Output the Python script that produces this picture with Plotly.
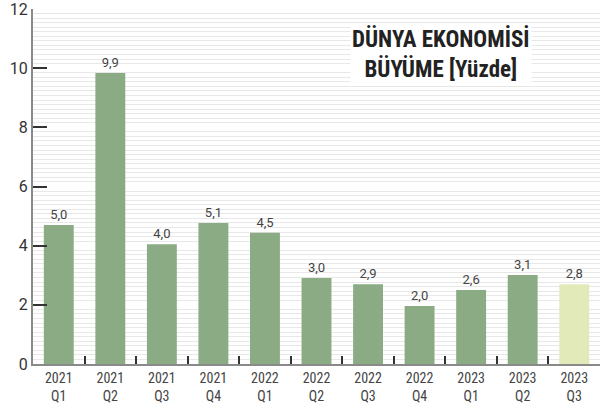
import plotly.graph_objects as go

years = ["2021", "2021", "2021", "2021", "2022", "2022", "2022", "2022", "2023", "2023", "2023"]
quarters = ["Q1", "Q2", "Q3", "Q4", "Q1", "Q2", "Q3", "Q4", "Q1", "Q2", "Q3"]
bar_values = [4.70, 9.84, 4.05, 4.77, 4.44, 2.91, 2.70, 1.96, 2.50, 3.01, 2.70]
value_labels = ["5,0", "9,9", "4,0", "5,1", "4,5", "3,0", "2,9", "2,0", "2,6", "3,1", "2,8"]
y_max = 12
y_step = 2
title_text = "DÜNYA EKONOMİSİ<br>BÜYÜME [Yüzde]"

categories = [f"{y}<br>{q}" for y, q in zip(years, quarters)]
colors = ["#8aab84"] * (len(categories) - 1) + ["#e1eab8"]

narrow = ("Roboto Condensed, Noto Sans Condensed, DejaVu Sans Condensed, "
          "Open Sans Condensed, Liberation Sans Narrow, Roboto, sans-serif")

fig = go.Figure(go.Bar(
    x=categories, y=bar_values,
    marker=dict(color=colors, line=dict(width=0)),
    width=0.58,
    text=value_labels, textposition="outside",
    textfont=dict(family="Roboto, Arial, sans-serif", size=13, color="#444"),
    cliponaxis=False,
))

fig.update_layout(
    width=600, height=414,
    margin=dict(l=33, r=0, t=9, b=50, autoexpand=False),
    paper_bgcolor="white", plot_bgcolor="white",
    showlegend=False,
    annotations=[dict(
        text=f"<b>{title_text}</b>", xref="paper", yref="paper",
        x=0.72, y=0.874, xanchor="center", yanchor="middle",
        showarrow=False, bgcolor="white",
        font=dict(family=narrow, size=23, color="#222"),
        align="center",
    )],
)

fig.update_yaxes(
    range=[0, y_max], tickmode="linear", tick0=0, dtick=y_step,
    automargin=False, ticklabeloverflow="allow",
    showgrid=False, zeroline=False,
    showline=True, linecolor="#8a8a8a", linewidth=2,
    ticks="inside", ticklen=14, tickwidth=1.5, tickcolor="#333",
    tickfont=dict(family="Roboto, Arial, sans-serif", size=16, color="#333"),
    minor=dict(tickmode="linear", tick0=0, dtick=y_step / 13, showgrid=True,
               gridcolor="#e8e8e8", gridwidth=1.2, ticks=""),
)
fig.update_xaxes(
    range=[-0.5, 10.5], automargin=False,
    showgrid=False, zeroline=False,
    showline=True, linecolor="#8a8a8a", linewidth=2,
    ticks="inside", tickson="boundaries", ticklen=8, tickwidth=1.5, tickcolor="#333",
    tickfont=dict(family=narrow, size=14, color="#444"),
)

fig.write_html("out.html", config={"displayModeBar": False},
               post_script="document.body.style.margin='0';document.body.style.overflow='hidden';")
